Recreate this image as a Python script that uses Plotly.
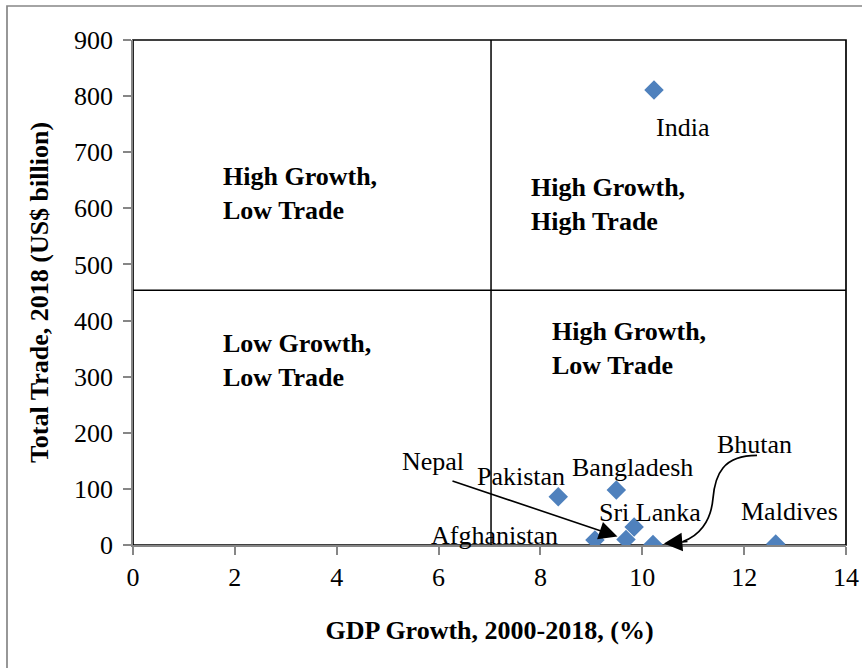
import plotly.graph_objects as go

# South Asia: GDP growth vs total trade
countries = ["India", "Pakistan", "Bangladesh", "Afghanistan", "Nepal",
             "Sri Lanka", "Bhutan", "Maldives"]
gdp_growth = [10.23, 8.35, 9.49, 9.07, 9.68, 9.84, 10.21, 12.62]
total_trade = [811, 86, 98, 9, 10, 32, 1, 2]

# quadrant split lines
GROWTH_CUT = 7.03
TRADE_CUT = 454

x_ticks = [0, 2, 4, 6, 8, 10, 12, 14]
y_ticks = [0, 100, 200, 300, 400, 500, 600, 700, 800, 900]

quadrant_texts = ["High Growth,<br>Low Trade", "High Growth,<br>High Trade",
                  "Low Growth,<br>Low Trade", "High Growth,<br>Low Trade"]
quadrant_pos = [(1.72, 627), (7.78, 607), (1.72, 329), (8.19, 350)]

# label offsets from each point, in pixels (xshift, yshift)
label_shift = {
    "India": (29, -38), "Pakistan": (-37, 20), "Bangladesh": (16, 23),
    "Afghanistan": (-100, 4), "Nepal": (-193, 78), "Sri Lanka": (16, 15),
    "Bhutan": (102, 100), "Maldives": (14, 32),
}

FONT = "Liberation Serif, Times New Roman, serif"
AXIS_GREY = "#868686"
W, H = 862, 668
M = dict(l=133, r=16, t=40, b=123)
pw, ph = W - M["l"] - M["r"], H - M["t"] - M["b"]

fig = go.Figure()
fig.add_trace(go.Scatter(
    x=gdp_growth, y=total_trade, mode="markers", text=countries,
    marker=dict(symbol="diamond", size=15, color="#4F81BD"),
    hovertemplate="%{text}<br>%{x}%, $%{y}bn<extra></extra>",
    showlegend=False,
))

# quadrant lines
fig.add_shape(type="line", x0=GROWTH_CUT, x1=GROWTH_CUT, y0=y_ticks[0], y1=y_ticks[-1],
              line=dict(color="black", width=1.5))
fig.add_shape(type="line", x0=x_ticks[0], x1=x_ticks[-1], y0=TRADE_CUT, y1=TRADE_CUT,
              line=dict(color="black", width=1.5))

# plot-area frame (top/right black), axes drawn over it in grey
fig.add_shape(type="rect", xref="paper", yref="paper", x0=0, x1=1, y0=0, y1=1,
              line=dict(color="black", width=1.7), layer="below")
# outer chart border (left/top visible, rest runs off the crop)
fig.add_shape(type="rect", xref="paper", yref="paper",
              x0=(7 - M["l"]) / pw, x1=1.2, y0=-0.4, y1=(M["t"] + ph - 6) / ph,
              line=dict(color=AXIS_GREY, width=1.7))

for txt, (qx, qy) in zip(quadrant_texts, quadrant_pos):
    fig.add_annotation(x=qx, y=qy, text=txt, showarrow=False, xanchor="left",
                       yanchor="middle", align="left",
                       font=dict(family=FONT, size=26, color="black", weight="bold"))

for name, gx, ty in zip(countries, gdp_growth, total_trade):
    dx, dy = label_shift[name]
    fig.add_annotation(x=gx, y=ty, text=name, showarrow=False, xshift=dx, yshift=dy,
                       font=dict(family=FONT, size=26, color="black"))

nepal = countries.index("Nepal")
fig.add_annotation(x=gdp_growth[nepal], y=total_trade[nepal], text="", showarrow=True,
                   ax=-175, ay=-59, standoff=9, arrowhead=2, arrowsize=2.3,
                   arrowwidth=1.6, arrowcolor="black")

bhutan = countries.index("Bhutan")
fig.add_shape(type="path", xref="x", yref="y", xsizemode="pixel", ysizemode="pixel",
              xanchor=gdp_growth[bhutan], yanchor=total_trade[bhutan],
              path="M 104,89 C 70,89 62,70 60,46 C 58,22 45,8 30,3",
              line=dict(color="black", width=1.7))
fig.add_annotation(x=gdp_growth[bhutan], y=total_trade[bhutan], text="", showarrow=True,
                   ax=36, ay=-3, standoff=11, arrowhead=2, arrowsize=2.3,
                   arrowwidth=1.6, arrowcolor="black")

axis_common = dict(showline=True, linecolor=AXIS_GREY, linewidth=1.5, ticks="outside",
                   ticklen=8, tickwidth=1.5, tickcolor=AXIS_GREY, showgrid=False,
                   zeroline=False, automargin=False,
                   tickfont=dict(family=FONT, size=26, color="black"))
fig.update_xaxes(range=[x_ticks[0], x_ticks[-1]], tickvals=x_ticks, ticklabelstandoff=0,
                 title=dict(text="<b>GDP Growth, 2000-2018, (%)</b>", standoff=30,
                            font=dict(family=FONT, size=26, color="black")),
                 **axis_common)
fig.update_yaxes(range=[y_ticks[0], y_ticks[-1]], tickvals=y_ticks, ticklabelstandoff=5,
                 title=dict(text="<b>Total Trade, 2018 (US$ billion)</b>", standoff=18,
                            font=dict(family=FONT, size=26, color="black")),
                 **axis_common)

fig.update_layout(width=W, height=H, margin=M, plot_bgcolor="white",
                  paper_bgcolor="white", font=dict(family=FONT))

# the page's default body margin would shift the chart by 8px
fig.write_html("out.html", config={"displayModeBar": False},
               post_script="document.body.style.margin='0';")
